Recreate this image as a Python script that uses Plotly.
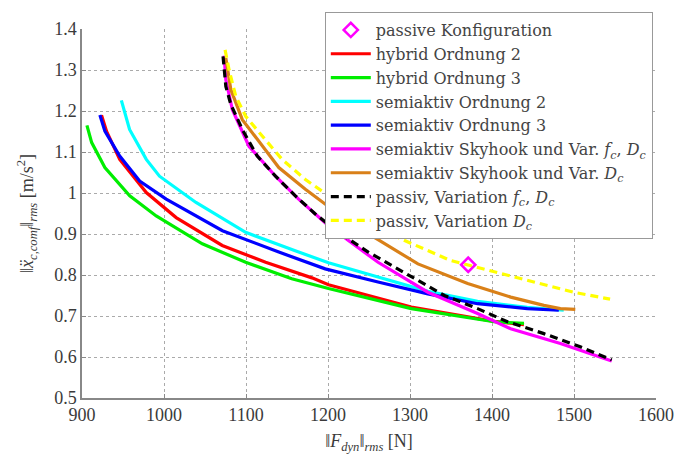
import plotly.graph_objects as go

# hybrid Ordnung 2 (red)
h2_x = [923.8, 930, 946, 978.4, 1014.8, 1071, 1123.9, 1180.4, 1200.6, 1301.6, 1402.6, 1439]
h2_y = [1.190, 1.15, 1.082, 1.001, 0.940, 0.872, 0.831, 0.793, 0.776, 0.722, 0.687, 0.679]
# hybrid Ordnung 3 (green)
h3_x = [906, 911.8, 927.9, 958.2, 990.5, 1046.7, 1099.6, 1155.8, 1200.6, 1301.6, 1402.6, 1439]
h3_y = [1.165, 1.123, 1.062, 0.993, 0.944, 0.876, 0.831, 0.791, 0.767, 0.718, 0.686, 0.682]
# semiaktiv Ordnung 2 (cyan)
s2_x = [948, 958, 978.4, 994.5, 1039, 1099.6, 1160, 1200.6, 1261, 1321.8, 1382.4, 1443, 1487.5]
s2_y = [1.226, 1.155, 1.082, 1.041, 0.977, 0.904, 0.859, 0.830, 0.795, 0.760, 0.736, 0.721, 0.714]
# semiaktiv Ordnung 3 (blue)
s3_x = [921.8, 927.9, 946, 970.3, 1002.7, 1071.3, 1140, 1196.6, 1261, 1321.8, 1382.4, 1443, 1481.5]
s3_y = [1.190, 1.151, 1.090, 1.029, 0.985, 0.908, 0.856, 0.815, 0.783, 0.754, 0.730, 0.718, 0.714]
# semiaktiv Skyhook und Var. f_c, D_c (magenta)
sk_x = [1073.3, 1075.4, 1083.4, 1103.6, 1136, 1164.2, 1200.6, 1237, 1261, 1321.8, 1382.4, 1422.8, 1483.4, 1546]
sk_y = [1.335, 1.276, 1.203, 1.114, 1.041, 0.985, 0.920, 0.866, 0.831, 0.758, 0.706, 0.669, 0.633, 0.590]
# semiaktiv Skyhook und Var. D_c (orange)
sd_x = [1075.4, 1081.5, 1095.5, 1113.7, 1140, 1172.4, 1204.6, 1245, 1285.5, 1309.7, 1370.3, 1422.8, 1463.3, 1483.4, 1501.6]
sd_y = [1.329, 1.252, 1.179, 1.131, 1.062, 1.009, 0.961, 0.906, 0.856, 0.827, 0.779, 0.746, 0.726, 0.718, 0.716]
# passiv, Variation f_c, D_c (black dashed)
pf_x = [1072, 1075.4, 1081.5, 1095.5, 1113.7, 1136, 1160.2, 1184.5, 1212.7, 1249, 1295.5, 1342, 1382.4, 1418.8, 1463.3, 1507.6, 1546]
pf_y = [1.333, 1.260, 1.216, 1.155, 1.090, 1.041, 0.993, 0.949, 0.904, 0.856, 0.803, 0.750, 0.718, 0.686, 0.657, 0.625, 0.593]
# passiv, Variation D_c (yellow dashed)
pd_x = [1074.5, 1079.4, 1087.5, 1099.6, 1119.8, 1144, 1172.4, 1196.6, 1269, 1293.5, 1350, 1402.6, 1451, 1499.6, 1544]
pd_y = [1.349, 1.300, 1.236, 1.187, 1.139, 1.082, 1.033, 0.999, 0.908, 0.884, 0.835, 0.807, 0.783, 0.758, 0.741]
# passive Konfiguration (diamond)
pk_x = [1371]
pk_y = [0.825]

FONT = "Liberation Serif"
LFONT = "DejaVu Serif"
TXT = "#3a3a3a"
ic = lambda s: "<i>" + s + "</i>"
sub = lambda s: "<sub>" + s + "</sub>"
fc = ic("f") + sub(ic("c"))
Dc = ic("D") + sub(ic("c"))

fig = go.Figure()
lw = 3.2
series = [
    (h2_x, h2_y, "hybrid Ordnung 2", "#FF0000", "solid"),
    (h3_x, h3_y, "hybrid Ordnung 3", "#00EE00", "solid"),
    (s2_x, s2_y, "semiaktiv Ordnung 2", "#00FFFF", "solid"),
    (s3_x, s3_y, "semiaktiv Ordnung 3", "#0000FF", "solid"),
    (sk_x, sk_y, "semiaktiv Skyhook und Var. " + fc + ", " + Dc, "#FF00FF", "solid"),
    (sd_x, sd_y, "semiaktiv Skyhook und Var. " + Dc, "#D98018", "solid"),
    (pf_x, pf_y, "passiv, Variation " + fc + ", " + Dc, "#000000", "8px,5px"),
    (pd_x, pd_y, "passiv, Variation " + Dc, "#FFFF00", "8px,5px"),
]
for i, (xs, ys, name, col, dash) in enumerate(series):
    fig.add_trace(go.Scatter(x=xs, y=ys, mode="lines", name=name, legendrank=10 + i,
                             line=dict(color=col, width=lw, dash=dash)))
fig.add_trace(go.Scatter(x=pk_x, y=pk_y, mode="markers", name="passive Konfiguration",
                         legendrank=1,
                         marker=dict(symbol="diamond-open", size=11, color="#FF00FF",
                                     line=dict(width=2.5, color="#FF00FF"))))

axis_common = dict(showgrid=True, gridcolor="#aaaaaa", griddash="dot", gridwidth=1,
                   showline=True, linecolor="#888888", linewidth=1.5,
                   ticks="inside", ticklen=4, tickcolor="#888888",
                   tickfont=dict(family=FONT, size=18, color=TXT),
                   zeroline=False, mirror=False)

fig.update_layout(
    width=686, height=460,
    margin=dict(l=82, r=27, t=29, b=60),
    paper_bgcolor="white", plot_bgcolor="white",
    font=dict(family=FONT, color=TXT),
    xaxis=dict(range=[900, 1600], dtick=100, tick0=900,
               title=dict(text="‖" + ic("F") + sub(ic("dyn")) + "‖" + sub(ic("rms")) + " [N]",
                          font=dict(family=FONT, size=18, color=TXT), standoff=10),
               **axis_common),
    yaxis=dict(range=[0.5, 1.4], dtick=0.1, tick0=0.5,
               title=dict(text="‖" + ic("x\u0308") + sub(ic("c,comf")) + "‖" + sub(ic("rms")) + " [m/s<sup>2</sup>]",
                          font=dict(family=FONT, size=18, color=TXT), standoff=16),
               **axis_common),
    legend=dict(x=0.423, y=1.046, xanchor="left", yanchor="top",
                bgcolor="white", bordercolor="#999999", borderwidth=1,
                font=dict(family=LFONT, size=16, color="#444444"),
                tracegroupgap=0, itemwidth=40, maxheight=400),
    showlegend=True,
)

fig.write_html("out.html", config={"displayModeBar": False},
               post_script="document.body.style.margin='0';")
